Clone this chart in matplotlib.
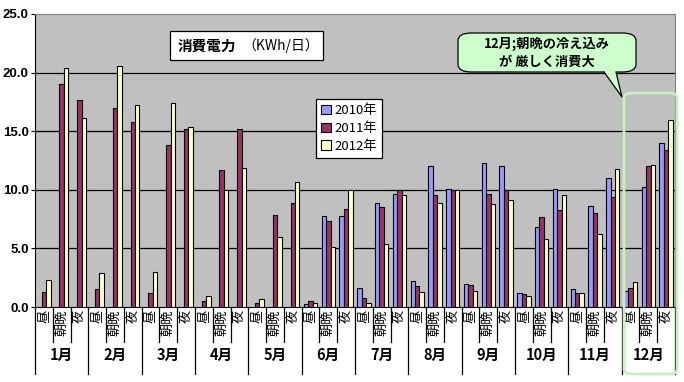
import numpy as np
import matplotlib
matplotlib.use("Agg")
import matplotlib.pyplot as plt
from matplotlib.patches import FancyBboxPatch, Rectangle, Polygon
from matplotlib.lines import Line2D

plt.rcParams['font.family'] = ['Noto Sans CJK JP', 'DejaVu Sans']

# --- data (kWh/day) ---
months = ['1月', '2月', '3月', '4月', '5月', '6月', '7月', '8月', '9月', '10月', '11月', '12月']
periods = ['昼', '朝晩', '夜']
years = ['2010年', '2011年', '2012年']

nan = np.nan
v2010 = [nan, nan, nan,  nan, nan, nan,  nan, nan, nan,  nan, nan, nan,
         nan, nan, nan,  0.25, 7.8, 7.8,  1.6, 8.85, 9.6,  2.2, 12.0, 10.05,
         1.95, 12.3, 12.0,  1.2, 6.8, 10.05,  1.5, 8.6, 11.0,  1.4, 10.25, 14.0]
v2011 = [1.3, 19.0, 17.7,  1.5, 17.0, 15.8,  1.2, 13.8, 15.2,  0.5, 11.7, 15.2,
         0.3, 7.85, 8.9,  0.5, 7.3, 8.35,  0.75, 8.5, 9.95,  1.8, 9.55, 10.0,
         1.85, 9.6, 9.95,  1.1, 7.65, 8.3,  1.2, 8.0, 9.4,  1.6, 12.0, 13.4]
v2012 = [2.3, 20.4, 16.1,  2.9, 20.6, 17.2,  3.0, 17.4, 15.4,  0.9, 10.0, 11.9,
         0.7, 6.0, 10.7,  0.3, 5.15, 10.0,  0.3, 5.4, 9.55,  1.3, 8.85, 9.95,
         1.35, 8.8, 9.1,  0.95, 5.8, 9.55,  1.2, 6.2, 11.8,  2.1, 12.1, 15.95]

colors = ['#9999FF', '#993366', '#FFFFCC']
W, H = 684, 382


def fx(px):
    return px / W


def fy(py):
    return 1 - py / H


fig = plt.figure(figsize=(6.84, 3.82), dpi=100)
fig.patch.set_facecolor('white')
ax = fig.add_axes([fx(35), fy(307), fx(675) - fx(35), fy(14) - fy(307)])
ax.set_facecolor('#C0C0C0')

x = np.arange(len(v2011))
bw = 0.25
for i, (vals, c) in enumerate(zip([v2010, v2011, v2012], colors)):
    ax.bar(x + (i - 1) * bw, vals, bw, color=c, edgecolor='black', linewidth=0.8,
           label=years[i], zorder=3)

ax.set_xlim(-0.5, len(x) - 0.5)
ax.set_ylim(0, 25)
ax.set_yticks(np.arange(0, 25.1, 5))
ax.set_yticklabels([f'{v:.1f}' for v in np.arange(0, 25.1, 5)], fontsize=9.5,
                   fontweight='bold', family='Liberation Sans')
ax.tick_params(axis='y', length=3, width=0.8, pad=1.5)
ax.set_xticks([])
for y in [5, 10, 15, 20]:
    ax.axhline(y, color='black', linewidth=0.9, zorder=1)
for s in ['top', 'right']:
    ax.spines[s].set_color('#808080')
for s in ['left', 'bottom']:
    ax.spines[s].set_color('black')

# category labels and separators below the axis
tr = ax.get_xaxis_transform()
px_per_ax = 307 - 14
for k in range(len(x)):
    ax.text(k, -3 / px_per_ax, periods[k % 3], rotation=90, ha='center', va='top',
            fontsize=9.5, transform=tr)
for k in range(len(x) + 1):
    b = k - 0.5
    depth = 67 if k % 3 == 0 else 35
    ax.add_line(Line2D([b, b], [0, -depth / px_per_ax], color='black', linewidth=0.9,
                       transform=tr, clip_on=False))
for m, name in enumerate(months):
    ax.text(3 * m + 1, -48 / px_per_ax, name, ha='center', va='center', fontsize=10.5,
            fontweight='bold', transform=tr)

# title box
fig.add_artist(Rectangle((fx(170), fy(60)), fx(323) - fx(170), fy(31) - fy(60),
                         transform=fig.transFigure, facecolor='white', edgecolor='black',
                         linewidth=0.9, zorder=5))
fig.text(fx(178), fy(45.5), '消費電力', fontsize=10.5, fontweight='bold', va='center',
         zorder=6)
fig.text(fx(242), fy(45.5), '（KWh/日）', fontsize=10, va='center', zorder=6)

# legend
leg = ax.legend(loc='upper left', bbox_to_anchor=(fx(316), fy(99)),
                bbox_transform=fig.transFigure, fancybox=False, framealpha=1,
                edgecolor='black', fontsize=9.5, handlelength=0.7, handleheight=0.7,
                handletextpad=0.3, borderpad=0.4, labelspacing=0.35, borderaxespad=0)
leg.get_frame().set_linewidth(0.9)
leg.set_zorder(6)

# callout
green = '#CCFFCC'
box = FancyBboxPatch((fx(458), fy(72)), fx(636) - fx(458), fy(33) - fy(72),
                     boxstyle='round,pad=0,rounding_size=0.02',
                     transform=fig.transFigure, facecolor=green, edgecolor='black',
                     linewidth=0.9, zorder=5)
fig.add_artist(box)
fig.add_artist(Polygon([(fx(604), fy(71)), (fx(616), fy(71)), (fx(622), fy(97))],
                       closed=True, transform=fig.transFigure, facecolor=green,
                       edgecolor='none', zorder=6))
fig.add_artist(Line2D([fx(604), fx(622), fx(616)], [fy(72), fy(97), fy(72)],
                      transform=fig.transFigure, color='black', linewidth=0.9, zorder=6))
fig.text(fx(547), fy(44), '12月;朝晩の冷え込み', fontsize=9.5, fontweight='bold',
         ha='center', va='center', zorder=7)
fig.text(fx(547), fy(62), 'が 厳しく消費大', fontsize=9.5, fontweight='bold',
         ha='center', va='center', zorder=7)

# highlight for December
fig.add_artist(FancyBboxPatch((fx(624), fy(374)), fx(677) - fx(624), fy(93) - fy(374),
                              boxstyle='round,pad=0,rounding_size=0.012',
                              transform=fig.transFigure, facecolor='none',
                              edgecolor='#C8F0C0', linewidth=2, zorder=8))

fig.savefig('out.png', dpi=100)
